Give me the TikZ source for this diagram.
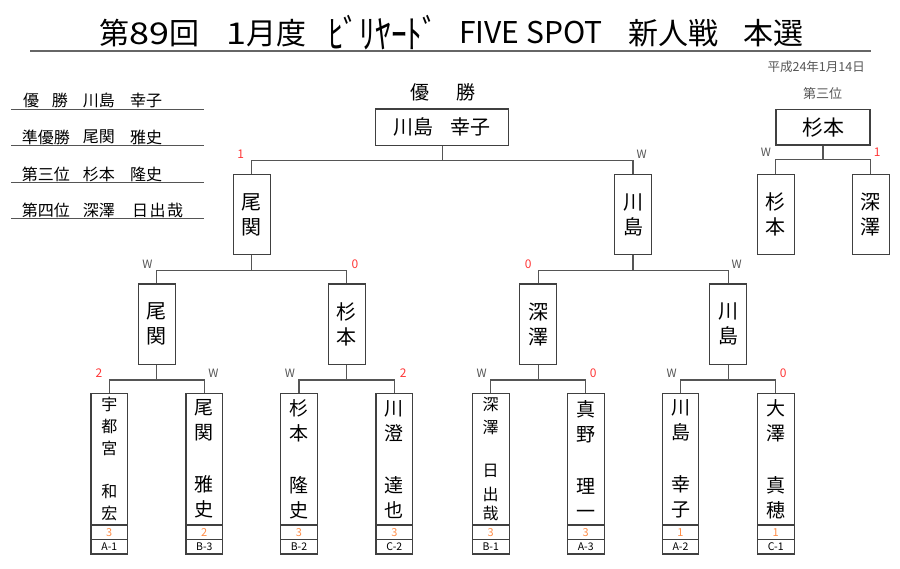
\documentclass[tikz,border=0pt]{standalone}
\usepackage{fontspec}
\setmainfont{Noto Sans CJK JP}
\usetikzlibrary{calc}
\definecolor{ln}{RGB}{85,85,85}
\definecolor{bx}{RGB}{64,64,64}
\definecolor{sred}{RGB}{255,55,55}
\definecolor{sorange}{RGB}{255,140,70}
\tikzset{
 conn/.style={draw=ln, line width=1.2pt},
 boxs/.style={draw=bx, line width=1.1pt, inner sep=0pt, align=center},
 namebox/.style={boxs, minimum width=36.7pt, minimum height=131.7pt},
 scorebox/.style={boxs, minimum width=36.7pt, minimum height=14.3pt, text=sorange, font=\fontsize{11}{11}\selectfont},
 codebox/.style={boxs, minimum width=36.7pt, minimum height=14.7pt, font=\fontsize{10.5}{10.5}\selectfont},
 midbox/.style={boxs, minimum width=36.7pt, minimum height=80.5pt, font=\fontsize{20}{25}\selectfont},
 wlab/.style={font=\fontsize{11.5}{12}\selectfont, text=ln, inner sep=0pt},
 nlab/.style={font=\fontsize{12}{12}\selectfont, text=sred, inner sep=0pt},
 lst/.style={anchor=west, inner sep=0pt, font=\fontsize{16}{16}\selectfont},
 listline/.style={draw=ln, line width=1.1pt},
 ttl/.style={anchor=west, inner sep=0pt, font=\fontsize{30}{30}\selectfont},
}
\newcommand\bbox[6]{%
 \node[namebox, font=#5] (nb#1) at (#2,459.15) {#6};
 \node[scorebox] (sc#1) at (#2,532.15) {#3};
 \node[codebox] (cd#1) at (#2,546.65) {#4};
}
\begin{document}
\begin{tikzpicture}[x=1pt,y=-1pt]
\useasboundingbox (0,0) rectangle (900,568);
% title
\node[ttl] (t1) at (99.3,33) {第\scalebox{1.2}[1]{89}回};
\node[ttl] (t2) at (226.7,33) {\scalebox{1.2}[1]{1}月度};
\node[ttl] (t3) at (328,33) {\scalebox{1.05}[1.3]{ﾋﾞﾘﾔｰﾄﾞ}};
\node[ttl] (t4) at (459,33) {FIVE SPOT};
\node[ttl] (t5) at (628,33) {新人戦};
\node[ttl] (t6) at (743,33) {本選};
\coordinate (rl) at (30,50.7);
\coordinate (rr) at (870.7,50.7);
\draw[draw=gray!80!black, line width=2.2pt] (rl) -- (rr);
\node[anchor=east, inner sep=0pt, font=\fontsize{12.5}{13}\selectfont, text=ln] (date) at (865,66.7) {平成24年1月14日};

% ranking list
\node[lst] (r1a) at (23,100.7) {優};
\node[lst] (r1b) at (51.7,100.7) {勝};
\node[lst] (r1c) at (82.7,100.7) {川島};
\node[lst] (r1d) at (130,100.7) {幸子};
\node[lst] (r2a) at (21.7,137) {準優勝};
\node[lst] (r2c) at (82.7,137) {尾関};
\node[lst] (r2d) at (130,137) {雅史};
\node[lst] (r3a) at (21.7,174) {第三位};
\node[lst] (r3c) at (82.7,174) {杉本};
\node[lst] (r3d) at (130,174) {隆史};
\node[lst] (r4a) at (21.7,210) {第四位};
\node[lst] (r4c) at (82.7,210) {深澤};
\node[lst] (r4d) at (132,210) {日\hspace{1.5pt}出\hspace{1.5pt}哉};
\foreach \yy/\nm in {109.3/a,145.7/b,182.3/c,218.3/d}{
  \coordinate (la\nm) at (11,\yy);
  \coordinate (lb\nm) at (204,\yy);
  \draw[listline] (la\nm) -- (lb\nm);
}

% bottom boxes
\bbox{1}{109.3}{3}{A-1}{\fontsize{16}{21.7}\selectfont}{宇\\都\\宮\\[21.7pt]和\\宏}
\bbox{2}{204.3}{2}{B-3}{\fontsize{19}{25}\selectfont}{尾\\関\\[27pt]雅\\史}
\bbox{3}{299}{3}{B-2}{\fontsize{19}{25}\selectfont}{杉\\本\\[27pt]隆\\史}
\bbox{4}{394.3}{3}{C-2}{\fontsize{19}{25}\selectfont}{川\\澄\\[27pt]達\\也}
\bbox{5}{490.7}{3}{B-1}{\fontsize{16}{22.6}\selectfont}{深\\澤\\[20.8pt]日\\[1.4pt]出\\[-3.6pt]哉}
\bbox{6}{585.7}{3}{A-3}{\fontsize{19}{25}\selectfont}{真\\野\\[27pt]理\\一}
\bbox{7}{680.5}{1}{A-2}{\fontsize{19}{25}\selectfont}{川\\島\\[27pt]幸\\子}
\bbox{8}{775.7}{1}{C-1}{\fontsize{19}{25}\selectfont}{大\\澤\\[27pt]真\\穂}

% level 2 boxes
\node[midbox] (m1) at (156.8,324.2) {尾\\関};
\node[midbox] (m2) at (346.7,324.2) {杉\\本};
\node[midbox] (m3) at (538.2,324.2) {深\\澤};
\node[midbox] (m4) at (728.1,324.2) {川\\島};
% level 3 boxes
\node[midbox] (s1) at (251.7,214.65) {尾\\関};
\node[midbox] (s2) at (633,214.65) {川\\島};
% winner
\node[inner sep=0pt, font=\fontsize{19}{19}\selectfont] (wt) at (443,92.3) {優\hspace{28pt}勝};
\node[boxs, minimum width=133pt, minimum height=36.7pt, font=\fontsize{20}{20}\selectfont] (win) at (442.2,127.35) {川島\hspace{17pt}幸子};
% third place
\node[inner sep=0pt, font=\fontsize{13}{13}\selectfont, text=ln] (tt) at (822.7,94) {第三位};
\node[boxs, minimum width=94pt, minimum height=35.7pt, font=\fontsize{21}{21}\selectfont] (th) at (823,127.15) {杉本};
\node[midbox] (p1) at (775.7,214.65) {杉\\本};
\node[midbox] (p2) at (870.7,214.65) {深\\澤};

% connectors bottom
\path (m1.south) ++(0,15) coordinate (j1);
\path (m2.south) ++(0,15) coordinate (j2);
\path (m3.south) ++(0,15) coordinate (j3);
\path (m4.south) ++(0,15) coordinate (j4);
\draw[conn] (nb1.north) |- (j1) -| (nb2.north);
\draw[conn] (j1) -- (m1.south);
\draw[conn] (nb3.north) |- (j2) -| (nb4.north);
\draw[conn] (j2) -- (m2.south);
\draw[conn] (nb5.north) |- (j3) -| (nb6.north);
\draw[conn] (j3) -- (m3.south);
\draw[conn] (nb7.north) |- (j4) -| (nb8.north);
\draw[conn] (j4) -- (m4.south);
% connectors level 2
\path (s1.south) ++(0,15) coordinate (k1);
\path (s2.south) ++(0,15) coordinate (k2);
\draw[conn] (m1.north) |- (k1) -| (m2.north);
\draw[conn] (k1) -- (s1.south);
\draw[conn] (m3.north) |- (k2) -| (m4.north);
\draw[conn] (k2) -- (s2.south);
% connectors level 3
\path (win.south) ++(0,14.3) coordinate (f1);
\draw[conn] (s1.north) |- (f1) -| (s2.north);
\draw[conn] (f1) -- (win.south);
% third place connectors
\path (th.south) ++(0,14.3) coordinate (g1);
\draw[conn] (p1.north) |- (g1) -| (p2.north);
\draw[conn] (g1) -- (th.south);

% result labels
\node[nlab] (a1) at (99,373.3) {2};
\node[wlab] (a2) at (213.3,373.3) {W};
\node[wlab] (a3) at (290,373.3) {W};
\node[nlab] (a4) at (403.3,373.3) {2};
\node[wlab] (a5) at (481.7,373.3) {W};
\node[nlab] (a6) at (593.3,373.3) {0};
\node[wlab] (a7) at (671.7,373.3) {W};
\node[nlab] (a8) at (783.3,373.3) {0};
\node[wlab] (b1) at (147.3,264) {W};
\node[nlab] (b2) at (355,264) {0};
\node[nlab] (b3) at (528.3,264) {0};
\node[wlab] (b4) at (736.7,264) {W};
\node[nlab] (c1) at (240.7,154) {1};
\node[wlab] (c2) at (641.7,154) {W};
\node[wlab] (d1) at (766,152) {W};
\node[nlab] (d2) at (877.3,152) {1};
\end{tikzpicture}
\end{document}
